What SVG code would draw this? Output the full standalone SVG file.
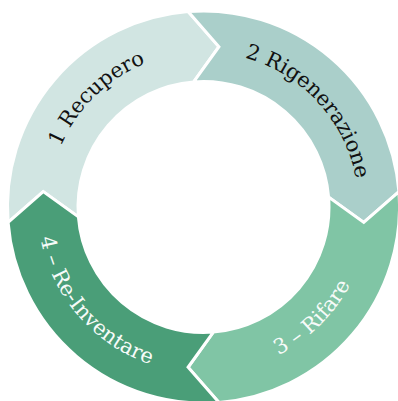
<svg xmlns="http://www.w3.org/2000/svg" xmlns:xlink="http://www.w3.org/1999/xlink" width="398" height="401" viewBox="0 0 398 401">
<style>
.seg{stroke:#ffffff;stroke-width:3;stroke-linejoin:miter}
.lbl{font-family:"DejaVu Serif","Liberation Serif",serif;font-size:21px;text-anchor:middle}
.dark{fill:#111111}
.light{fill:#f7fbf9}
</style>
<defs>
<path id="p1" d="M75.76,294.79 A155,155 0 0 1 293.51,80.81" fill="none"/>
<path id="p2" d="M120.22,76.27 A155,155 0 0 1 326.47,301.36" fill="none"/>
<path id="p3" d="M107.10,342.14 A166,166 0 0 0 340.31,112.98" fill="none"/>
<path id="p4" d="M74.49,102.53 A166,166 0 0 0 289.00,349.29" fill="none"/>
</defs>
<rect width="398" height="401" fill="#ffffff"/>
<g id="node1">
<path class="seg" fill="#d1e5e2" d="M8.10,222.38 A196,196 0 0 1 188.12,11.60 L218.93,46.74 L193.65,81.89 A125.5,125.5 0 0 0 78.39,216.85 L43.24,191.57 Z"/>
<text class="lbl dark"><textPath xlink:href="#p1" href="#p1" startOffset="50%">1 Recupero</textPath></text>
</g>
<g id="node2">
<path class="seg" fill="#aacfca" d="M188.12,11.60 A196,196 0 0 1 398.90,191.62 L363.76,222.43 L328.61,197.15 A125.5,125.5 0 0 0 193.65,81.89 L218.93,46.74 Z"/>
<text class="lbl dark"><textPath xlink:href="#p2" href="#p2" startOffset="50%">2 Rigenerazione</textPath></text>
</g>
<g id="node3">
<path class="seg" fill="#80c5a5" d="M398.90,191.62 A196,196 0 0 1 218.88,402.40 L188.07,367.26 L213.35,332.11 A125.5,125.5 0 0 0 328.61,197.15 L363.76,222.43 Z"/>
<text class="lbl light"><textPath xlink:href="#p3" href="#p3" startOffset="50%">3 – Rifare</textPath></text>
</g>
<g id="node4">
<path class="seg" fill="#4a9e78" d="M218.88,402.40 A196,196 0 0 1 8.10,222.38 L43.24,191.57 L78.39,216.85 A125.5,125.5 0 0 0 213.35,332.11 L188.07,367.26 Z"/>
<text class="lbl light"><textPath xlink:href="#p4" href="#p4" startOffset="50%">4 – Re-Inventare</textPath></text>
</g>
</svg>
